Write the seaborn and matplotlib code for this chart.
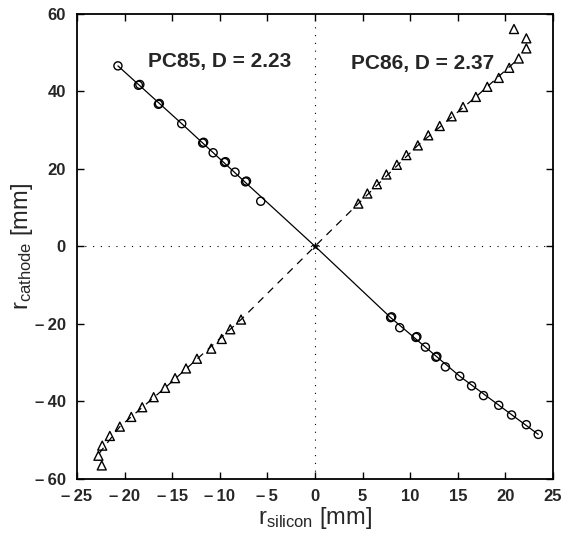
import matplotlib
matplotlib.use("Agg")
import matplotlib.pyplot as plt
import seaborn as sns
import pandas as pd

# PC85 (circles) data points
pc85_x = [-20.7, -18.55, -18.4, -16.45, -16.35, -14.0, -11.8, -11.7, -10.7, -9.5, -9.4,
          -8.4, -7.3, -7.2, -5.7,
          7.95, 8.05, 8.9, 10.6, 10.7, 11.6, 12.7, 12.8, 13.7, 15.2, 16.45, 17.7,
          19.3, 20.65, 22.2, 23.45]
pc85_y = [46.5, 41.5, 41.7, 36.6, 36.8, 31.6, 26.6, 26.8, 24.1, 21.6, 21.8,
          19.1, 16.6, 16.8, 11.6,
          -18.4, -18.2, -21.0, -23.5, -23.3, -26.0, -28.6, -28.4, -31.1, -33.5, -36.0, -38.5,
          -41.0, -43.5, -46.0, -48.5]

# PC86 (triangles) data points
pc86_x = [20.9, 22.2, 22.2, 21.4, 20.4, 19.3, 18.1, 16.9, 15.55, 14.35, 13.1, 11.9,
          10.8, 9.6, 8.6, 7.5, 6.5, 5.5, 4.55,
          -7.77, -8.9, -9.8, -10.9, -12.4, -13.55, -14.7, -15.75, -16.95, -18.15,
          -19.3, -20.5, -21.55, -22.35, -22.75, -22.4]
pc86_y = [56.0, 53.6, 51.0, 48.4, 46.0, 43.4, 41.1, 38.5, 35.9, 33.5, 31.0, 28.6,
          26.0, 23.5, 21.0, 18.5, 16.0, 13.6, 11.0,
          -18.9, -21.4, -23.9, -26.4, -29.0, -31.5, -34.0, -36.5, -38.9, -41.5,
          -44.0, -46.5, -48.9, -51.4, -54.0, -56.5]

# fitted curves (vertices)
fit85_x = [-20.7, -14.0, -6.8, 0.0, 7.95, 15.2, 23.45]
fit85_y = [46.5, 31.6, 15.3, 0.0, -18.4, -33.5, -48.5]
fit86_x = [-22.7, -20.5, -15.75, -7.77, 0.0, 4.55, 10.8, 16.9, 21.4]
fit86_y = [-53.5, -46.5, -36.5, -18.9, 0.0, 11.0, 26.0, 38.5, 48.4]

origin_x = [0.0]
origin_y = [0.0]

labels = ["PC85, D = 2.23", "PC86, D = 2.37"]
label_x = [-10.0, 11.35]
label_y = [47.5, 47.1]

x_ticks = [-25, -20, -15, -10, -5, 0, 5, 10, 15, 20, 25]
y_ticks = [-60, -40, -20, 0, 20, 40, 60]

sns.set_style("ticks")
plt.rcParams['font.family'] = ['Liberation Sans', 'DejaVu Sans']
plt.rcParams['mathtext.fontset'] = 'custom'
plt.rcParams['mathtext.rm'] = 'Liberation Sans'
plt.rcParams['mathtext.it'] = 'Liberation Sans'

fig = plt.figure(figsize=(5.73, 5.48), dpi=100)
ax = fig.add_axes([77/573, 1-479/548, (553-77)/573, (479-13.5)/548])

ax.axhline(0, color='black', lw=0.8, ls=(0, (1, 6)), zorder=1)
ax.axvline(0, color='black', lw=0.8, ls=(0, (1, 6)), zorder=1)

df85 = pd.DataFrame({"x": fit85_x, "y": fit85_y})
df86 = pd.DataFrame({"x": fit86_x, "y": fit86_y})
sns.lineplot(data=df85, x="x", y="y", sort=False, estimator=None, ax=ax,
             color='black', lw=0.9, zorder=2)
sns.lineplot(data=df86, x="x", y="y", sort=False, estimator=None, ax=ax,
             color='black', lw=0.9, zorder=2)
ax.lines[-1].set_dashes([6, 5])

sns.scatterplot(x=pc85_x, y=pc85_y, ax=ax, marker='o', s=34,
                facecolors='none', edgecolors='black', linewidths=1.0, zorder=3)
sns.scatterplot(x=pc86_x, y=pc86_y, ax=ax, marker='^', s=42,
                facecolors='none', edgecolors='black', linewidths=1.0, zorder=3)
sns.scatterplot(x=origin_x, y=origin_y, ax=ax, marker='*', s=30,
                color='black', edgecolor='black', zorder=4)

for t, tx, ty in zip(labels, label_x, label_y):
    ax.text(tx, ty, t, ha='center', va='center', fontsize=15, fontweight='bold')

ax.set_xlim(-25, 25)
ax.set_ylim(-60, 60)
ax.set_xticks(x_ticks)
ax.set_yticks(y_ticks)

def fmt(v):
    return ("\u2013\u2009" + str(abs(v))) if v < 0 else str(v)

ax.set_xticklabels([fmt(v) for v in x_ticks], fontweight='bold', fontsize=12)
ax.set_yticklabels([fmt(v) for v in y_ticks], fontweight='bold', fontsize=12)

ax.tick_params(direction='in', length=5, width=1, top=True, right=True,
               labeltop=False, labelright=False, color='black')
ax.tick_params(axis='x', pad=7)
ax.tick_params(axis='y', pad=8)
for s in ax.spines.values():
    s.set_linewidth(1.3)
    s.set_color('black')

ax.set_xlabel(r'$\mathregular{r_{silicon}\ [mm]}$', fontsize=17, labelpad=1)
ax.set_ylabel(r'$\mathregular{r_{cathode}\ [mm]}$', fontsize=17, labelpad=0)

fig.savefig("out.png", dpi=100)
